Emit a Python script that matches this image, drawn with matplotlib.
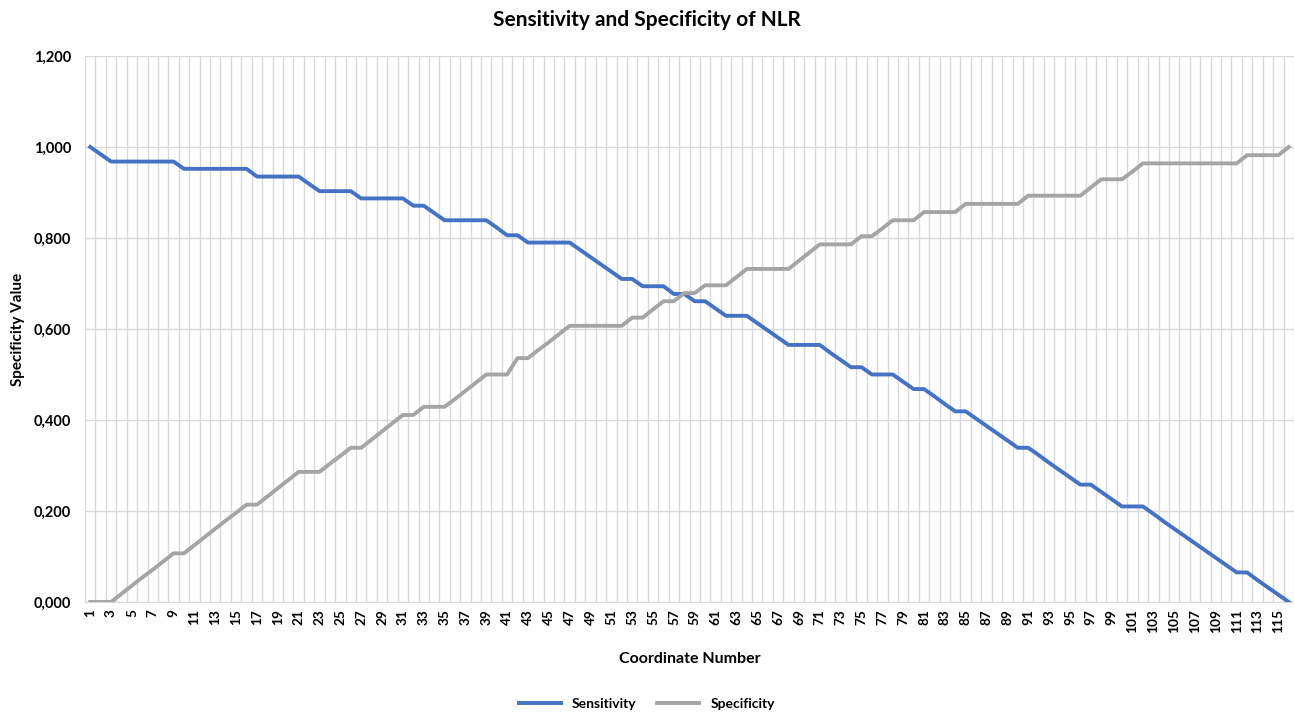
import numpy as np
import matplotlib
matplotlib.use("Agg")
from matplotlib import pyplot as plt
from matplotlib.ticker import FuncFormatter, MultipleLocator

plt.rcParams['font.family'] = ['Lato', 'DejaVu Sans']
plt.rcParams['font.weight'] = 'bold'

# values, one per coordinate number
coordinates = list(range(1, 117))
sensitivity = [
    1.000, 0.984,
    0.968, 0.968, 0.968, 0.968, 0.968, 0.968, 0.968,
    0.952, 0.952, 0.952, 0.952, 0.952, 0.952, 0.952,
    0.935, 0.935, 0.935, 0.935, 0.935,
    0.919,
    0.903, 0.903, 0.903, 0.903,
    0.887, 0.887, 0.887, 0.887, 0.887,
    0.871, 0.871,
    0.855,
    0.839, 0.839, 0.839, 0.839, 0.839,
    0.823,
    0.806, 0.806,
    0.790, 0.790, 0.790, 0.790, 0.790,
    0.774, 0.758, 0.742, 0.726, 0.710,
    0.710,
    0.694, 0.694, 0.694,
    0.677, 0.677,
    0.661, 0.661,
    0.645,
    0.629, 0.629, 0.629,
    0.613, 0.597, 0.581,
    0.565, 0.565, 0.565, 0.565,
    0.548, 0.532, 0.516,
    0.516,
    0.500, 0.500, 0.500,
    0.484,
    0.468, 0.468,
    0.452, 0.435, 0.419,
    0.419,
    0.403, 0.387, 0.371, 0.355, 0.339,
    0.339,
    0.323, 0.306, 0.290, 0.274, 0.258,
    0.258,
    0.242, 0.226, 0.210,
    0.210, 0.210,
    0.194, 0.177, 0.161, 0.145, 0.129, 0.113, 0.097, 0.081, 0.065,
    0.065,
    0.048, 0.032, 0.016, 0.000,
]
specificity = [
    0.000, 0.000, 0.000,
    0.018, 0.036, 0.054, 0.071, 0.089, 0.107,
    0.107,
    0.125, 0.143, 0.161, 0.179, 0.196, 0.214,
    0.214,
    0.232, 0.250, 0.268, 0.286,
    0.286, 0.286,
    0.304, 0.321, 0.339,
    0.339,
    0.357, 0.375, 0.393, 0.411,
    0.411,
    0.429,
    0.429, 0.429,
    0.446, 0.464, 0.482, 0.500,
    0.500, 0.500,
    0.536,
    0.536,
    0.554, 0.571, 0.589, 0.607,
    0.607, 0.607, 0.607, 0.607, 0.607,
    0.625,
    0.625,
    0.643, 0.661,
    0.661,
    0.679,
    0.679,
    0.696,
    0.696, 0.696,
    0.714, 0.732,
    0.732, 0.732, 0.732, 0.732,
    0.750, 0.768, 0.786,
    0.786, 0.786, 0.786,
    0.804,
    0.804,
    0.821, 0.839,
    0.839, 0.839,
    0.857,
    0.857, 0.857, 0.857,
    0.875,
    0.875, 0.875, 0.875, 0.875, 0.875,
    0.893,
    0.893, 0.893, 0.893, 0.893, 0.893,
    0.911, 0.929,
    0.929, 0.929,
    0.946, 0.964,
    0.964, 0.964, 0.964, 0.964, 0.964, 0.964, 0.964, 0.964, 0.964,
    0.982,
    0.982, 0.982, 0.982,
    1.000,
]
x_labels = [str(c) for c in coordinates[::2]]

fig = plt.figure(figsize=(12.94, 7.13), dpi=100)
ax = fig.add_axes([85 / 1294, 111 / 713, 1209 / 1294, 546 / 713])

ax.plot(coordinates, sensitivity, color='#4472C4', lw=2.8, label='Sensitivity',
        solid_joinstyle='round', zorder=3)
ax.plot(coordinates, specificity, color='#A5A5A5', lw=2.8, label='Specificity',
        solid_joinstyle='round', zorder=3)

ax.set_xlim(0.5, len(coordinates) + 0.5)
ax.set_ylim(0, 1.2)
ax.yaxis.set_major_locator(MultipleLocator(0.2))
ax.yaxis.set_major_formatter(FuncFormatter(lambda v, p: f"{v:.3f}".replace('.', ',')))

ax.set_xticks(coordinates[::2])
ax.set_xticklabels(x_labels, rotation=90, fontsize=9.8, fontweight='bold')
ax.set_xticks(np.arange(0.5, len(coordinates) + 1, 1), minor=True)
ax.tick_params(axis='x', which='both', length=0, pad=5)
ax.tick_params(axis='y', length=0, pad=10, labelsize=10.5)

ax.grid(True, axis='y', which='major', color='#D9D9D9', lw=1)
ax.grid(True, axis='x', which='minor', color='#D9D9D9', lw=1)
ax.grid(False, axis='x', which='major')
ax.set_axisbelow(True)
for side in ['top', 'right', 'left']:
    ax.spines[side].set_visible(False)
ax.spines['bottom'].set_color('#D9D9D9')

ax.set_xlabel('Coordinate Number', fontsize=11.5, fontweight='bold', labelpad=14)
ax.set_ylabel('Specificity Value', fontsize=11, fontweight='bold', labelpad=6)
fig.text(0.5, 0.972, 'Sensitivity and Specificity of NLR', ha='center', va='center',
         fontsize=15, fontweight='bold')

fig.legend(loc='center', bbox_to_anchor=(0.5, 0.013), ncol=2, frameon=False,
           fontsize=10, handlelength=3, columnspacing=1.5)

fig.savefig('out.png', dpi=100)
